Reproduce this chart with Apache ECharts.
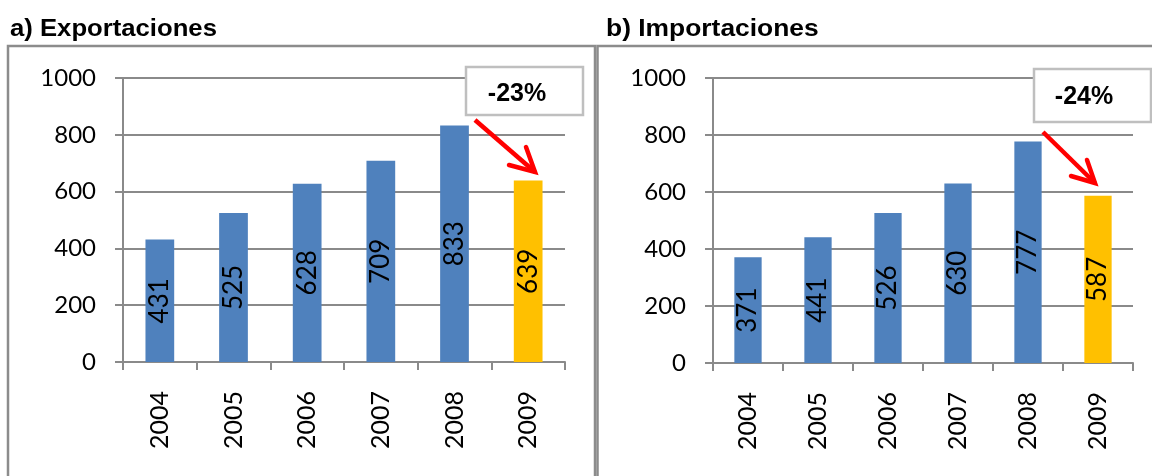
<!DOCTYPE html>
<html><head><meta charset="utf-8">
<script src="https://cdn.jsdelivr.net/npm/echarts@6/dist/echarts.min.js"></script>
<style>html,body{margin:0;padding:0;background:#fff}#c{width:1152px;height:476px}</style>
</head><body><div id="c"></div>
<script>
// ---- data ----
const years = ['2004', '2005', '2006', '2007', '2008', '2009'];
const exportaciones = [431, 525, 628, 709, 833, 639];
const importaciones = [371, 441, 526, 630, 777, 587];
const yMin = 0, yMax = 1000, yInterval = 200;
const panelTitles = ['a) Exportaciones', 'b) Importaciones'];
const changeLabels = ['-23%', '-24%'];
const highlightYear = '2009';

// ---- styles ----
const BLUE = '#4F81BD', GOLD = '#FFC000', GRID = '#8a8a8a';
const chart = echarts.init(document.getElementById('c'), null, {renderer: 'canvas'});

function barData(vals) {
  return vals.map((v, i) => ({
    value: v,
    itemStyle: {color: years[i] === highlightYear ? GOLD : BLUE}
  }));
}
function xAx(gi) {
  return {
    gridIndex: gi, type: 'category', data: years,
    axisLine: {show: true, lineStyle: {color: GRID, width: 2}},
    axisTick: {show: true, length: 8, lineStyle: {color: GRID, width: 2}},
    axisLabel: {interval: 0, rotate: 90, margin: 29, color: '#000',
      fontFamily: 'Lato', fontSize: 25},
    splitLine: {show: false}
  };
}
function yAx(gi) {
  return {
    gridIndex: gi, type: 'value', min: yMin, max: yMax, interval: yInterval,
    axisLine: {show: true, lineStyle: {color: GRID, width: 2}},
    axisTick: {show: true, length: 8, lineStyle: {color: GRID, width: 2}},
    axisLabel: {margin: 27, color: '#000', fontFamily: 'Lato', fontSize: 24,
      formatter: v => String(v)},
    splitLine: {show: true, lineStyle: {color: GRID, width: 2}}
  };
}
const barLabel = {show: true, position: 'inside', rotate: 90, color: '#000',
  fontFamily: 'Lato', fontSize: 26, formatter: p => String(p.value)};

function arrow(start, tip, b1, b2) {
  return [
    {type: 'polyline', z: 100, shape: {points: [start, tip]},
      style: {stroke: '#ff0000', lineWidth: 4.5, fill: null, lineCap: 'butt'}},
    {type: 'polyline', z: 100, shape: {points: [b1, tip, b2]},
      style: {stroke: '#ff0000', lineWidth: 4.5, fill: null, lineJoin: 'miter', lineCap: 'round'}}
  ];
}

const graphics = [
  // panel frames
  {type: 'rect', z: 1, shape: {x: 8, y: 46, width: 587, height: 460},
    style: {fill: null, stroke: '#8c8c8c', lineWidth: 2.5}},
  {type: 'rect', z: 1, shape: {x: 597.5, y: 46, width: 600, height: 460},
    style: {fill: null, stroke: '#8c8c8c', lineWidth: 2.5}},
  // titles
  {type: 'text', x: 10, y: 29, scaleX: 1.07, z: 50,
    style: {text: panelTitles[0], x: 0, y: 0, fill: '#000',
      font: 'bold 24px "Liberation Sans", Arial, sans-serif', align: 'left', verticalAlign: 'middle'}},
  {type: 'text', x: 606, y: 29, scaleX: 1.1, z: 50,
    style: {text: panelTitles[1], x: 0, y: 0, fill: '#000',
      font: 'bold 24px "Liberation Sans", Arial, sans-serif', align: 'left', verticalAlign: 'middle'}},
  // change boxes
  {type: 'rect', z: 90, shape: {x: 466, y: 67, width: 117, height: 48},
    style: {fill: '#fff', stroke: '#bfbfbf', lineWidth: 2.5}},
  {type: 'text', z: 91, x: 517, y: 94,
    style: {text: changeLabels[0], fill: '#000', font: 'bold 25px "Liberation Sans", Arial, sans-serif',
      align: 'center', verticalAlign: 'middle'}},
  {type: 'rect', z: 90, shape: {x: 1034, y: 69, width: 117, height: 53},
    style: {fill: '#fff', stroke: '#bfbfbf', lineWidth: 2.5}},
  {type: 'text', z: 91, x: 1084, y: 97,
    style: {text: changeLabels[1], fill: '#000', font: 'bold 25px "Liberation Sans", Arial, sans-serif',
      align: 'center', verticalAlign: 'middle'}}
].concat(
  arrow([475, 120], [535, 172], [509, 165], [526, 147]),
  arrow([1043, 132], [1095, 183], [1071, 176], [1087, 160])
);

chart.setOption({
  animation: false,
  backgroundColor: '#fff',
  grid: [
    {left: 123, right: 587, top: 78, bottom: 114, containLabel: false},
    {left: 713, right: 19, top: 78, bottom: 113, containLabel: false}
  ],
  xAxis: [xAx(0), xAx(1)],
  yAxis: [yAx(0), yAx(1)],
  series: [
    {type: 'bar', xAxisIndex: 0, yAxisIndex: 0, barWidth: '39%', data: barData(exportaciones), label: barLabel},
    {type: 'bar', xAxisIndex: 1, yAxisIndex: 1, barWidth: '39%', data: barData(importaciones), label: barLabel}
  ],
  graphic: graphics
});
</script>
</body></html>
